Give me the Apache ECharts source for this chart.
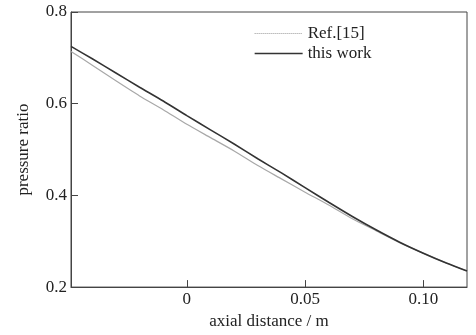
<!DOCTYPE html>
<html>
<head>
<meta charset="utf-8">
<script src="https://cdn.jsdelivr.net/npm/echarts@6/dist/echarts.min.js"></script>
<style>html,body{margin:0;padding:0;background:#fff}#c{width:476px;height:335px}</style>
</head>
<body>
<div id="c"></div>
<script>
var axialDistance = [-0.049, -0.04, -0.03, -0.02, -0.01, 0, 0.01, 0.02, 0.03, 0.04, 0.05, 0.06, 0.07, 0.08, 0.09, 0.10, 0.11, 0.1185];
var refValues =      [0.714, 0.684, 0.650, 0.617, 0.587, 0.555, 0.526, 0.497, 0.465, 0.436, 0.407, 0.379, 0.349, 0.323, 0.297, 0.274, 0.252, 0.235];
var thisWorkValues = [0.725, 0.698, 0.667, 0.636, 0.606, 0.574, 0.543, 0.512, 0.480, 0.449, 0.417, 0.385, 0.354, 0.325, 0.298, 0.274, 0.252, 0.235];
var xTicks = [0, 0.05, 0.10];
var yTicks = [0.2, 0.4, 0.6, 0.8];
var seriesNames = ['Ref.[15]', 'this work'];

function pairs(xs, ys) { return xs.map(function (x, i) { return [x, ys[i]]; }); }

var font = 'Liberation Serif, Times New Roman, serif';
var chart = echarts.init(document.getElementById('c'), null, { renderer: 'canvas' });
chart.setOption({
  animation: false,
  backgroundColor: '#fff',
  grid: { left: 71, right: 9, top: 12, bottom: 41, show: true, borderColor: '#444', borderWidth: 1 },
  legend: {
    orient: 'vertical', left: 249, top: 20, itemWidth: 48, itemHeight: 14, itemGap: 3,
    textStyle: { fontFamily: font, fontSize: 17, color: '#222' },
    itemStyle: { color: 'rgba(0,0,0,0)', borderColor: 'rgba(0,0,0,0)', borderWidth: 0 },
    data: [
      { name: seriesNames[0], lineStyle: { color: '#999', type: 'dotted', width: 1 } },
      { name: seriesNames[1], lineStyle: { color: '#333', width: 1.3 } }
    ]
  },
  xAxis: {
    type: 'value', min: -0.049, max: 0.1185,
    name: 'axial distance / m', nameLocation: 'middle', nameGap: 17,
    nameTextStyle: { fontFamily: font, fontSize: 17, color: '#222' },
    axisLine: { show: true, onZero: false, lineStyle: { color: '#444', width: 1 } },
    axisTick: { show: true, inside: true, length: 7, customValues: xTicks, lineStyle: { color: '#444' } },
    axisLabel: { customValues: xTicks, margin: 4, fontFamily: font, fontSize: 17, color: '#222',
      formatter: function (v) { return Math.abs(v) < 1e-9 ? '0' : v.toFixed(2); } },
    splitLine: { show: false }
  },
  yAxis: {
    type: 'value', min: 0.2, max: 0.8,
    name: 'pressure ratio', nameLocation: 'middle', nameGap: 39,
    nameTextStyle: { fontFamily: font, fontSize: 17, color: '#222' },
    axisLine: { show: true, onZero: false, lineStyle: { color: '#444', width: 1 } },
    axisTick: { show: true, inside: true, length: 7, customValues: yTicks, lineStyle: { color: '#444' } },
    axisLabel: { customValues: yTicks, margin: 4, fontFamily: font, fontSize: 17, color: '#222',
      formatter: function (v) { return v.toFixed(1); } },
    splitLine: { show: false }
  },
  series: [
    { name: seriesNames[0], type: 'line', data: pairs(axialDistance, refValues), symbol: 'none', smooth: 0.2,
      lineStyle: { color: '#a8a8a8', width: 1.2 }, itemStyle: { color: '#999' } },
    { name: seriesNames[1], type: 'line', data: pairs(axialDistance, thisWorkValues), symbol: 'none', smooth: 0.2,
      lineStyle: { color: '#333', width: 1.6 }, itemStyle: { color: '#333' } }
  ]
});
</script>
</body>
</html>
